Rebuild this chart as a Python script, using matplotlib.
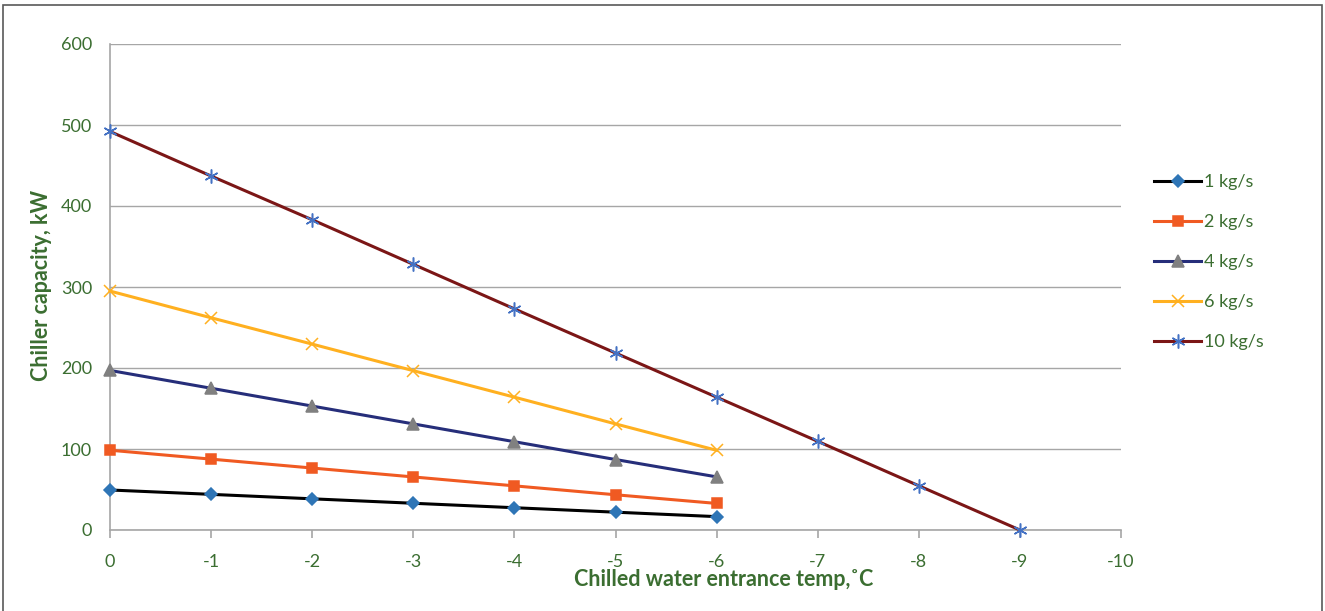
import matplotlib.pyplot as plt
from matplotlib.patches import Rectangle

GREEN = "#3B6E31"
GRID = "#A6A6A6"

temps = [0, -1, -2, -3, -4, -5, -6, -7, -8, -9]
temps_short = temps[:7]

cap_1 = [49.4, 44, 38.5, 33, 27.5, 22, 16.5]
cap_2 = [98.5, 87.5, 76.5, 65.5, 54.5, 43.5, 32.8]
cap_4 = [197, 175, 153, 131, 109, 87, 65.6]
cap_6 = [295, 262, 229.5, 196.7, 164, 131, 98.4]
cap_10 = [492, 437, 383, 328, 273, 218.5, 164, 109.5, 54.6, 0]

x_ticks = list(range(0, -11, -1))
y_ticks = [0, 100, 200, 300, 400, 500, 600]

plt.rcParams['font.family'] = ['Lato', 'DejaVu Sans']

W, H = 1325, 611
fig = plt.figure(figsize=(W / 100, H / 100), dpi=100)
ax = fig.add_axes([110 / W, 1 - 530 / H, 1011 / W, 486 / H])

# outer frame around the whole chart
fig.patches.append(Rectangle((3 / W, -0.02), 1319 / W, 1 - 5 / H + 0.02,
                             transform=fig.transFigure, fill=False,
                             edgecolor="#595959", lw=1.2))

series = [
    ("1 kg/s", temps_short, cap_1, "black", "D", "#2E75B6", 6.5),
    ("2 kg/s", temps_short, cap_2, "#F05A22", "s", "#F05A22", 7.5),
    ("4 kg/s", temps_short, cap_4, "#262E7A", "^", "#808080", 8),
    ("6 kg/s", temps_short, cap_6, "#FFB020", "x", "#FFB020", 8),
    ("10 kg/s", temps, cap_10, "#7B1616", (6, 2, 0), "#4472C4", 10),
]

for label, xs, ys, color, marker, mcolor, ms in series:
    ax.plot(xs, ys, color=color, lw=2.2, marker=marker, markersize=ms,
            markerfacecolor=mcolor, markeredgecolor=mcolor, markeredgewidth=1.1,
            label=label, clip_on=False, zorder=3)

ax.set_xlim(0, -10)
ax.set_ylim(0, 600)
ax.set_xticks(x_ticks)
ax.set_xticklabels([str(t) for t in x_ticks])
ax.set_yticks(y_ticks)

ax.grid(axis="y", color=GRID, lw=1)
ax.set_axisbelow(True)
for side in ("top", "right"):
    ax.spines[side].set_visible(False)
for side in ("left", "bottom"):
    ax.spines[side].set_color(GRID)
    ax.spines[side].set_linewidth(1.2)

ax.tick_params(axis="x", colors=GREEN, labelsize=13, length=6, width=1.2,
               color=GRID, pad=11)
ax.tick_params(axis="y", colors=GREEN, labelsize=13, length=0, pad=13)

ax.set_xlabel("Chilled water entrance temp,˚C", color=GREEN, fontsize=15.5,
              fontweight="bold")
ax.xaxis.set_label_coords((724 - 110) / 1011, (530 - 569) / 486)
ax.set_ylabel("Chiller capacity, kW", color=GREEN, fontsize=15.5,
              fontweight="bold")
ax.yaxis.set_label_coords((52 - 110) / 1011, (530 - 285) / 486)

leg = ax.legend(loc="upper left", bbox_to_anchor=(1037 / 1011, (530 - 167) / 486),
                frameon=False, fontsize=13, labelspacing=1.33, handlelength=2.6,
                handletextpad=0.15, borderaxespad=0)
for text in leg.get_texts():
    text.set_color(GREEN)

fig.savefig("out.png", dpi=100)
